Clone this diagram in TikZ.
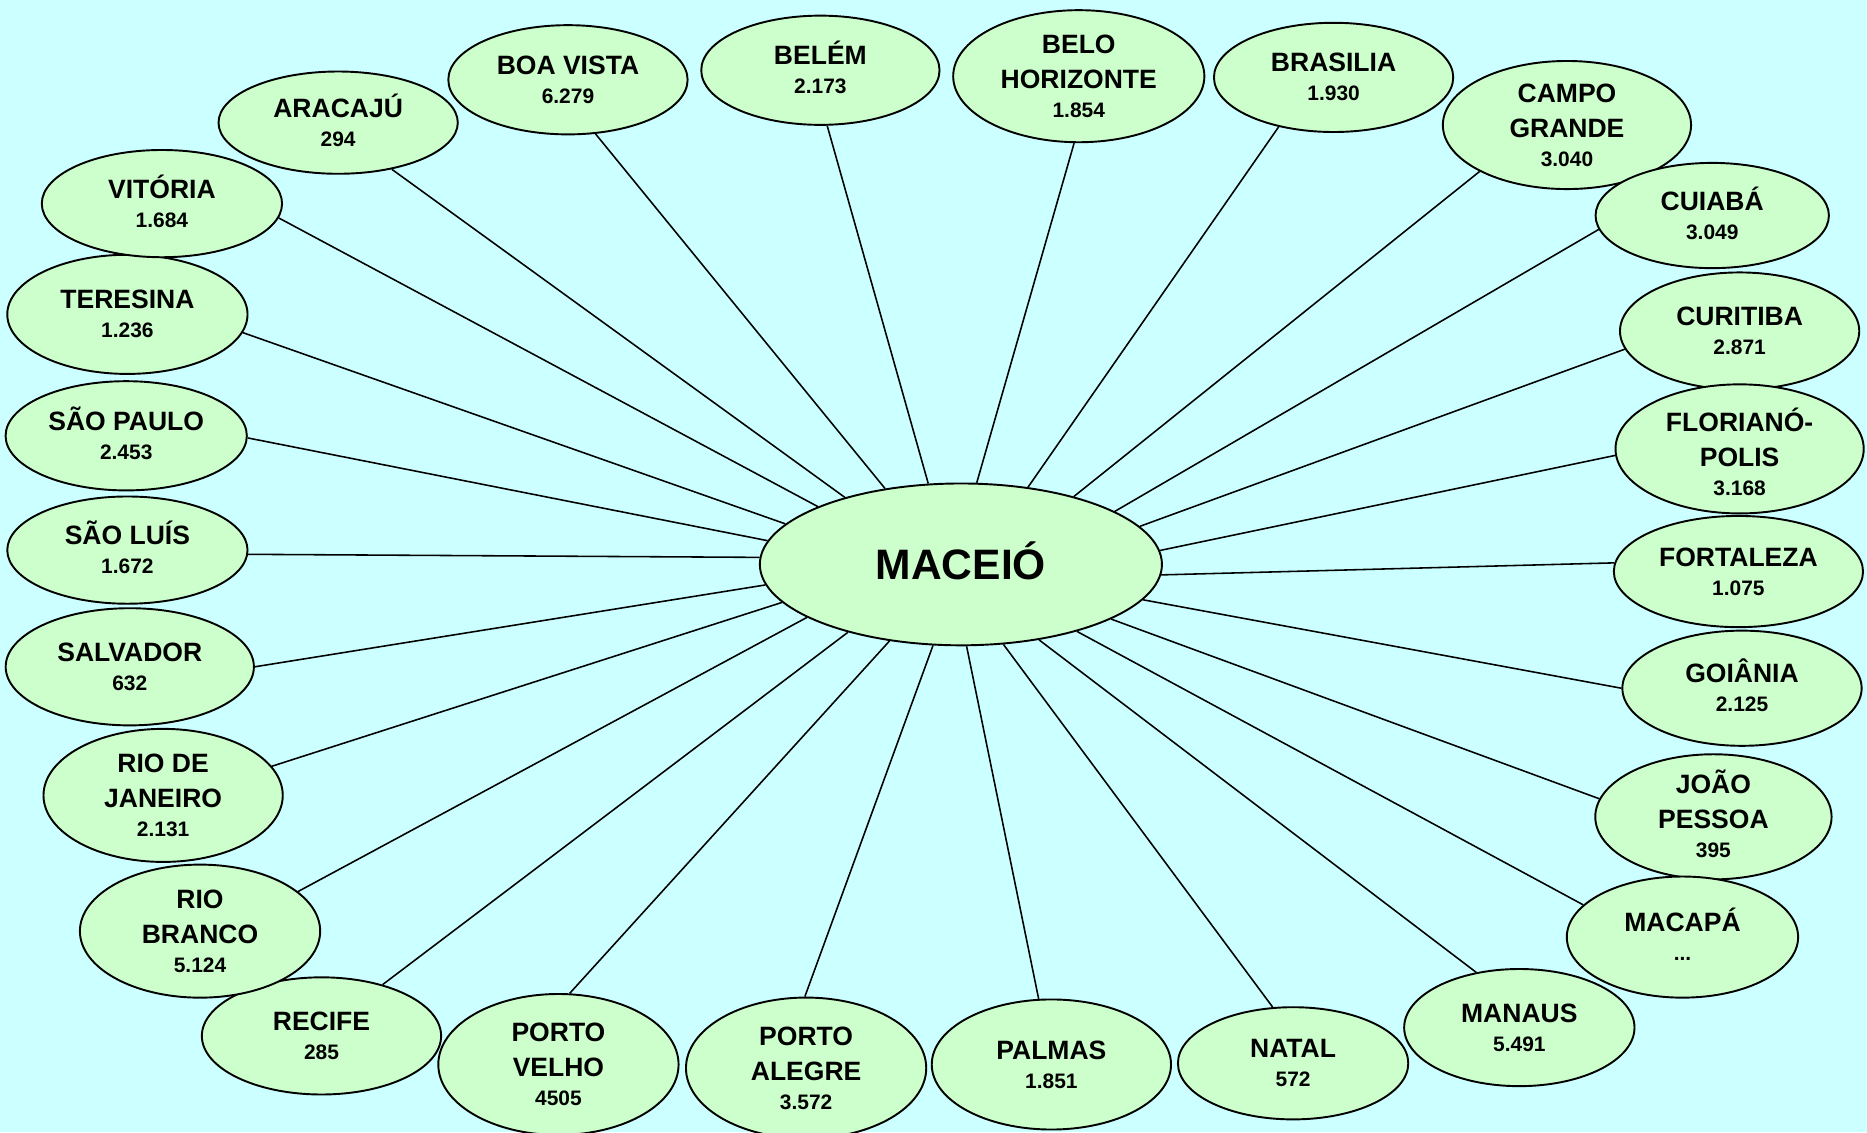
\documentclass[tikz,border=0pt]{standalone}
\usepackage{fontspec}
\setmainfont{Liberation Sans}
\usetikzlibrary{shapes.geometric}

\definecolor{fundo}{HTML}{CCFFFF}
\definecolor{verde}{HTML}{CCFFCC}

% nome da capital e distancia, centrado no no
\newcommand{\capital}[3][-2.6pt]{\makebox[0pt]{\smash{\raisebox{#1}{\begin{tabular}{@{}c@{}}#2\\[-1.7pt]{\fontsize{6.0}{7}\selectfont #3}\end{tabular}}}}}

\begin{document}
\begin{tikzpicture}[x=0.012cm, y=-0.012cm]
	\tikzstyle{elipse} = [
		ellipse, draw=black, line width=0.55pt, fill=verde, inner sep=0pt
	]
	\tikzstyle{cidade} = [
		elipse, font=\bfseries\fontsize{7.6}{10}\selectfont
	]
	\tikzstyle{centro} = [
		elipse, minimum width=4.05cm, minimum height=1.63cm, font=\bfseries\fontsize{12.2}{15}\selectfont
	]
	\tikzstyle{conn} = [
		line width=0.45pt
	]

	% fundo
	\fill[fundo] (0,0) rectangle (1568,951);
	\useasboundingbox (0,0) rectangle (1568,951);

	% Maceio
	\node (maceio) [centro] at (807,474) {\smash{\raisebox{-4.4pt}{MACEIÓ}}};

	% capitais em cima
	\node (aracaju) [cidade, minimum width=2.41cm, minimum height=1.03cm] at (284,103) {\capital{ARACAJÚ}{294}};
	\node (boavista) [cidade, minimum width=2.41cm, minimum height=1.10cm] at (477,67) {\capital{BOA VISTA}{6.279}};
	\node (belem) [cidade, minimum width=2.40cm, minimum height=1.10cm] at (689,59) {\capital{BELÉM}{2.173}};
	\node (belohorizonte) [cidade, minimum width=2.53cm, minimum height=1.33cm] at (906,64) {\capital{BELO\\HORIZONTE}{1.854}};
	\node (brasilia) [cidade, minimum width=2.41cm, minimum height=1.10cm] at (1120,65) {\capital{BRASILIA}{1.930}};
	\node (campogrande) [cidade, minimum width=2.50cm, minimum height=1.29cm] at (1316,105) {\capital{CAMPO\\GRANDE}{3.040}};

	% capitais a direita
	\node (cuiaba) [cidade, minimum width=2.35cm, minimum height=1.06cm] at (1438,181) {\capital{CUIABÁ}{3.049}};
	\node (curitiba) [cidade, minimum width=2.41cm, minimum height=1.18cm] at (1461,278) {\capital{CURITIBA}{2.871}};
	\node (florianopolis) [cidade, minimum width=2.50cm, minimum height=1.30cm] at (1461,377) {\capital[-4.3pt]{FLORIANÓ-\\POLIS}{3.168}};
	\node (fortaleza) [cidade, minimum width=2.51cm, minimum height=1.12cm] at (1460,480) {\capital{FORTALEZA}{1.075}};
	\node (goiania) [cidade, minimum width=2.41cm, minimum height=1.16cm] at (1463,578) {\capital{GOIÂNIA}{2.125}};
	\node (joaopessoa) [cidade, minimum width=2.38cm, minimum height=1.26cm] at (1439,686) {\capital{JOÃO\\PESSOA}{395}};
	\node (macapa) [cidade, minimum width=2.33cm, minimum height=1.22cm] at (1413,787) {\capital{MACAPÁ}{...}};

	% capitais embaixo
	\node (manaus) [cidade, minimum width=2.32cm, minimum height=1.18cm] at (1276,863) {\capital{MANAUS}{5.491}};
	\node (natal) [cidade, minimum width=2.32cm, minimum height=1.13cm] at (1086,893) {\capital{NATAL}{572}};
	\node (palmas) [cidade, minimum width=2.41cm, minimum height=1.31cm] at (883,894) {\capital{PALMAS}{1.851}};
	\node (portoalegre) [cidade, minimum width=2.42cm, minimum height=1.42cm] at (677,897) {\capital{PORTO\\ALEGRE}{3.572}};
	\node (portovelho) [cidade, minimum width=2.42cm, minimum height=1.42cm] at (469,894) {\capital{PORTO\\VELHO}{4505}};
	\node (recife) [cidade, minimum width=2.41cm, minimum height=1.18cm] at (270,870) {\capital{RECIFE}{285}};

	% capitais a esquerda
	\node (riobranco) [cidade, minimum width=2.42cm, minimum height=1.34cm] at (168,782) {\capital{RIO\\BRANCO}{5.124}};
	\node (riodejaneiro) [cidade, minimum width=2.41cm, minimum height=1.34cm] at (137,668) {\capital{RIO DE\\JANEIRO}{2.131}};
	\node (salvador) [cidade, minimum width=2.50cm, minimum height=1.18cm] at (109,560) {\capital{SALVADOR}{632}};
	\node (saoluis) [cidade, minimum width=2.42cm, minimum height=1.08cm] at (107,462) {\capital{SÃO LUÍS}{1.672}};
	\node (saopaulo) [cidade, minimum width=2.43cm, minimum height=1.10cm] at (106,366) {\capital{SÃO PAULO}{2.453}};
	\node (teresina) [cidade, minimum width=2.42cm, minimum height=1.20cm] at (107,264) {\capital{TERESINA}{1.236}};
	\node (vitoria) [cidade, minimum width=2.42cm, minimum height=1.08cm] at (136,171) {\capital{VITÓRIA}{1.684}};

	% ligacoes
	\draw[conn] (aracaju.-41) -- (maceio.150);
	\draw[conn] (boavista.-63) -- (maceio.135);
	\draw[conn] (belem.-83) -- (maceio.112);
	\draw[conn] (belohorizonte.-94) -- (maceio.79);
	\draw[conn] (brasilia.-138) -- (maceio.49);
	\draw[conn] (campogrande.-152) -- (maceio.31);
	\draw[conn] (cuiaba.-173) -- (maceio.19);
	\draw[conn] (curitiba.-171) -- (maceio.12);
	\draw[conn] (florianopolis.-177) -- (maceio.4);
	\draw[conn] (fortaleza.176) -- (maceio.-3);
	\draw[conn] (goiania.180) -- (maceio.-11);
	\draw[conn] (joaopessoa.171) -- (maceio.-20);
	\draw[conn] (macapa.162) -- (maceio.-30);
	\draw[conn] (manaus.128) -- (maceio.-44);
	\draw[conn] (natal.110) -- (maceio.-62);
	\draw[conn] (palmas.101) -- (maceio.-86);
	\draw[conn] (portoalegre.91) -- (maceio.-109);
	\draw[conn] (portovelho.81) -- (maceio.-133);
	\draw[conn] (recife.40) -- (maceio.-149);
	\draw[conn] (riobranco.22) -- (maceio.-161);
	\draw[conn] (riodejaneiro.15) -- (maceio.-168);
	\draw[conn] (salvador.0) -- (maceio.-174);
	\draw[conn] (saoluis.-2) -- (maceio.178);
	\draw[conn] (saopaulo.-1) -- (maceio.173);
	\draw[conn] (teresina.-9) -- (maceio.167);
	\draw[conn] (vitoria.-7) -- (maceio.158);

\end{tikzpicture}
\end{document}
